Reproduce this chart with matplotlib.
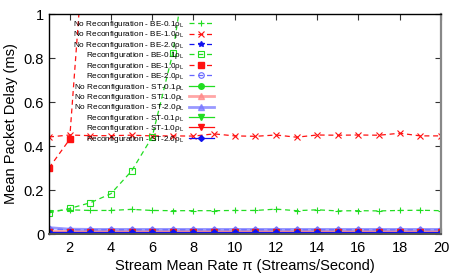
import numpy as np
import matplotlib
matplotlib.use("Agg")
import matplotlib.pyplot as plt
from matplotlib.ticker import FixedLocator

plt.rcParams["font.family"] = ["Liberation Sans", "DejaVu Sans"]
plt.rcParams["mathtext.fontset"] = "custom"
plt.rcParams["mathtext.rm"] = "Liberation Sans"
plt.rcParams["mathtext.it"] = "Liberation Sans:italic"

# ---------------- data ----------------
x_all = list(range(1, 21))

nr_be01 = [0.104, 0.110, 0.107, 0.107, 0.112, 0.107, 0.106, 0.106, 0.106, 0.107,
           0.107, 0.113, 0.106, 0.110, 0.105, 0.106, 0.105, 0.107, 0.108, 0.106]
nr_be10 = [0.441, 0.450, 0.447, 0.447, 0.449, 0.446, 0.446, 0.445, 0.455, 0.446,
           0.444, 0.450, 0.440, 0.450, 0.449, 0.450, 0.449, 0.458, 0.446, 0.446]
nr_be20 = [0.022, 0.020, 0.019, 0.019, 0.019, 0.019, 0.019, 0.019, 0.019, 0.019,
           0.019, 0.019, 0.019, 0.019, 0.019, 0.019, 0.019, 0.019, 0.019, 0.019]
r_be01_x = [1, 2, 3, 4, 5, 6, 7, 8]
r_be01 = [0.096, 0.116, 0.142, 0.183, 0.286, 0.441, 0.822, 1.44]
r_be10_x = [1, 2, 3]
r_be10 = [0.300, 0.430, 1.70]
r_be20 = [0.021, 0.020, 0.020, 0.020, 0.020, 0.020, 0.020, 0.020, 0.020, 0.020,
          0.020, 0.020, 0.020, 0.020, 0.020, 0.020, 0.020, 0.020, 0.020, 0.020]
nr_st01 = [0.004] * 20
nr_st10 = [0.012] * 20
nr_st20 = [0.029, 0.022, 0.021, 0.021, 0.021, 0.021, 0.021, 0.021, 0.021, 0.021,
           0.021, 0.021, 0.021, 0.021, 0.021, 0.021, 0.021, 0.021, 0.021, 0.021]
r_st01 = [0.005] * 20
r_st10 = [0.011] * 20
r_st20 = [0.010] * 20

rho = "ρ$_{\\mathrm{L}}$"
labels = [
    "No Reconfiguration - BE-0.1" + rho,
    "No Reconfiguration - BE-1.0" + rho,
    "No Reconfiguration - BE-2.0" + rho,
    "Reconfiguration - BE-0.1" + rho,
    "Reconfiguration - BE-1.0" + rho,
    "Reconfiguration - BE-2.0" + rho,
    "No Reconfiguration - ST-0.1" + rho,
    "No Reconfiguration - ST-1.0" + rho,
    "No Reconfiguration - ST-2.0" + rho,
    "Reconfiguration - ST-0.1" + rho,
    "Reconfiguration - ST-1.0" + rho,
    "Reconfiguration - ST-2.0" + rho,
]
xticks = [2, 4, 6, 8, 10, 12, 14, 16, 18, 20]
yticks = [0, 0.2, 0.4, 0.6, 0.8, 1.0]
ytick_labels = ["0", "0.2", "0.4", "0.6", "0.8", "1"]

# ---------------- figure ----------------
G = "#22dd22"
R = "#ff1111"
B = "#1111ee"

fig = plt.figure(figsize=(4.57, 2.74), dpi=100)
ax = fig.add_axes([49/457, 1-234/274, (441-49)/457, (234-14)/274])

dash = (0, (4, 3))
ms = 4
series = [
    (x_all, nr_be01, dict(color=G, ls=dash, marker="+", ms=5, mew=0.8)),
    (x_all, nr_be10, dict(color=R, ls=dash, marker="x", ms=4, mew=0.8)),
    (x_all, nr_be20, dict(color=B, ls=dash, marker="*", ms=4)),
    (r_be01_x, r_be01, dict(color=G, ls=dash, marker="s", ms=ms, mfc="none", mew=0.8)),
    (r_be10_x, r_be10, dict(color=R, ls=dash, marker="s", ms=ms)),
    (x_all, r_be20, dict(color="#6666ff", ls=dash, marker="o", ms=ms, mfc="none", mew=0.8)),
    (x_all, nr_st01, dict(color=G, ls="-", marker="o", ms=ms)),
    (x_all, nr_st10, dict(color="#ff8888", ls="-", lw=2.0, marker="^", ms=ms, alpha=0.75)),
    (x_all, nr_st20, dict(color="#7777ff", ls="-", lw=2.0, marker="^", ms=ms, alpha=0.75)),
    (x_all, r_st01, dict(color=G, ls="-", marker="v", ms=ms)),
    (x_all, r_st10, dict(color=R, ls="-", marker="v", ms=ms)),
    (x_all, r_st20, dict(color=B, ls="-", marker="D", ms=3)),
]
handles = []
for (xs, ys, kw), lab in zip(series, labels):
    kw.setdefault("lw", 0.9)
    h, = ax.plot(xs, ys, label=lab, **kw)
    handles.append(h)

ax.set_xlim(1, 20)
ax.set_ylim(0, 1)
ax.xaxis.set_major_locator(FixedLocator(xticks))
ax.set_yticks(yticks)
ax.set_yticklabels(ytick_labels)
ax.tick_params(direction="in", length=4, width=0.8, labelsize=10.5,
               top=True, right=True, colors="#333333", labelcolor="black")
ax.tick_params(axis="x", pad=5)
for s in ["left", "top"]:
    ax.spines[s].set_color("black")
    ax.spines[s].set_linewidth(1.0)
ax.spines["right"].set_color("#888888")
ax.spines["right"].set_linewidth(1.6)
ax.spines["bottom"].set_color("#555555")
ax.spines["bottom"].set_linewidth(1.4)

ax.set_xlabel("Stream Mean Rate π (Streams/Second)", fontsize=10.5, labelpad=3)
ax.set_ylabel("Mean Packet Delay (ms)", fontsize=10.5, labelpad=4)

leg = ax.legend(handles=handles, loc="upper right",
                bbox_to_anchor=(214/457, 1-19/274), bbox_transform=fig.transFigure,
                frameon=False, markerfirst=False, fontsize=5.9,
                handlelength=3.1, handletextpad=0.5, labelspacing=-0.07,
                borderpad=0, borderaxespad=0)

fig.savefig("out.png", dpi=100)
